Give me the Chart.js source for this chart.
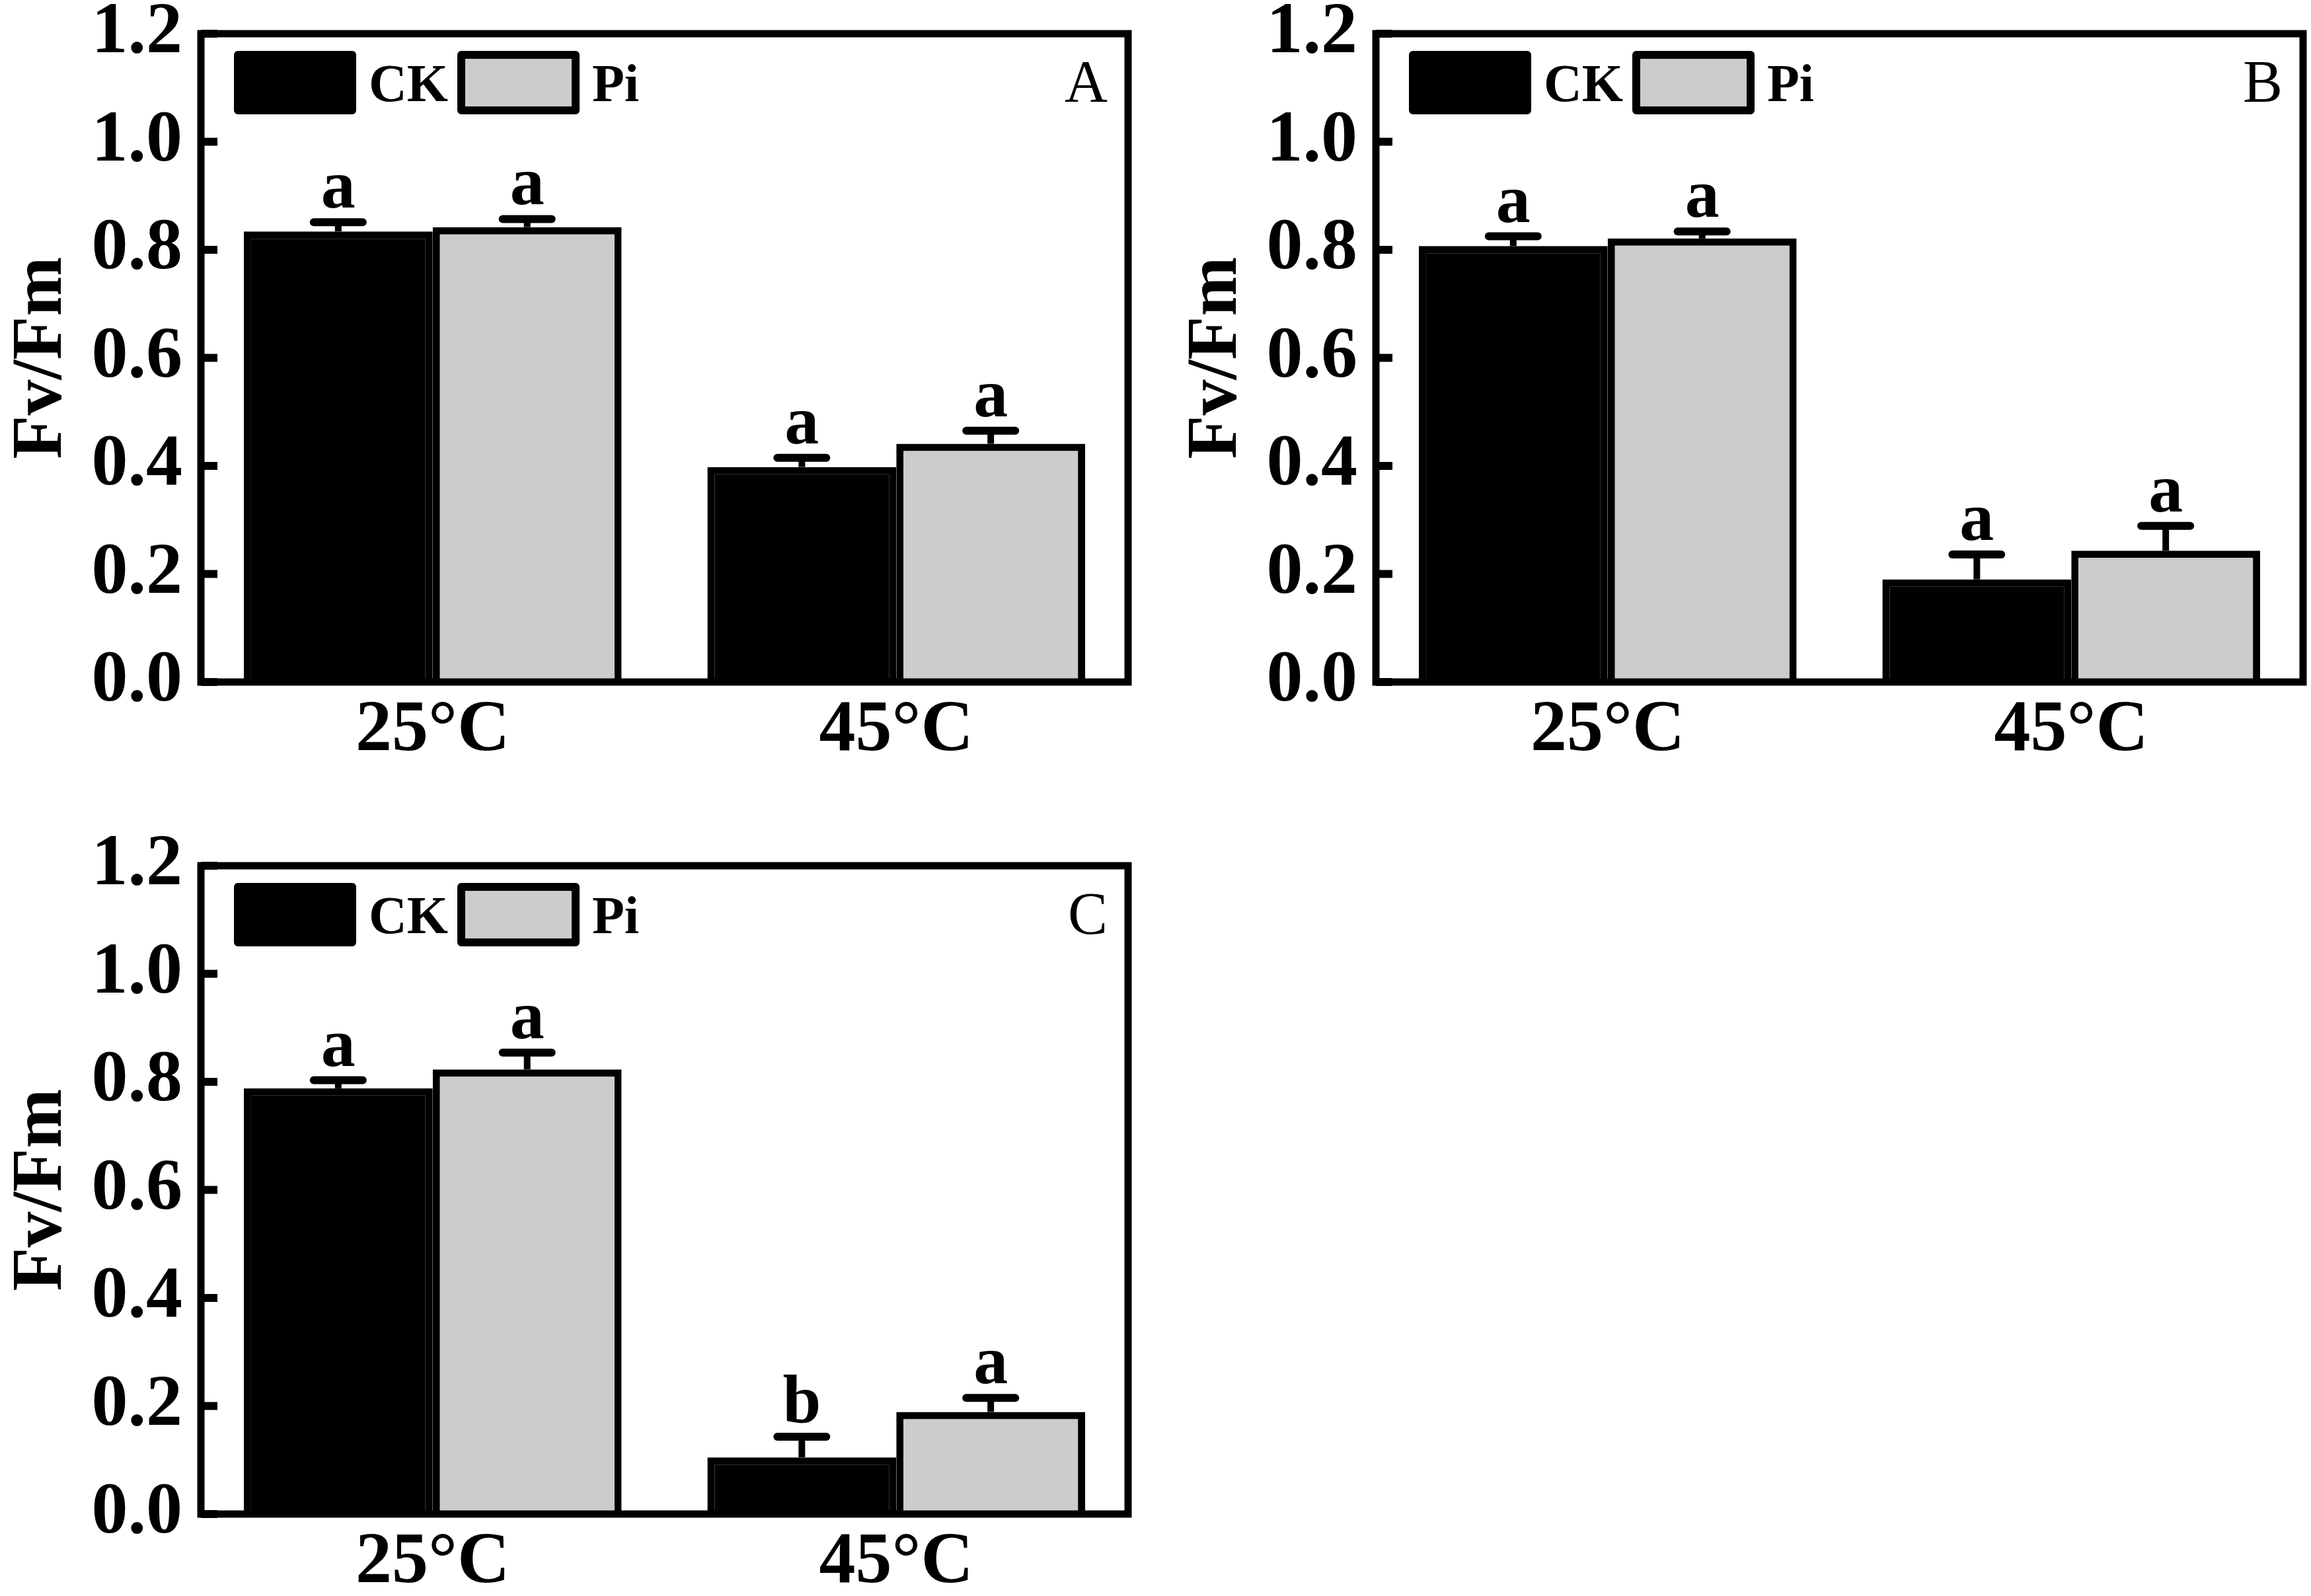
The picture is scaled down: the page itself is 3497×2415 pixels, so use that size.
<!DOCTYPE html>
<html>
<head>
<meta charset="utf-8">
<script src="https://cdn.jsdelivr.net/npm/chart.js@4.4.1/dist/chart.umd.min.js"></script>
<style>
  html, body { margin: 0; padding: 0; background: #fff; }
  body { width: 3497px; height: 2415px; position: relative; overflow: hidden; }
  .panel { position: absolute; width: 1719px; height: 1156px; }
</style>
</head>
<body>
<div class="panel" style="left:0;top:0"><canvas id="chartA" width="1719" height="1156"></canvas></div>
<div class="panel" style="left:1778px;top:0"><canvas id="chartB" width="1719" height="1156"></canvas></div>
<div class="panel" style="left:0;top:1259px"><canvas id="chartC" width="1719" height="1156"></canvas></div>
<script>
const categories = ["25°C", "45°C"];
const seriesNames = ["CK", "Pi"];
const yTicks = [0, 0.2, 0.4, 0.6, 0.8, 1.0, 1.2];

// panel A
const ckMeanA = [0.834, 0.398];
const ckErrA = [0.017, 0.017];
const ckLetterA = ["a", "a"];
const piMeanA = [0.842, 0.441];
const piErrA = [0.015, 0.024];
const piLetterA = ["a", "a"];

// panel B
const ckMeanB = [0.807, 0.190];
const ckErrB = [0.018, 0.046];
const ckLetterB = ["a", "a"];
const piMeanB = [0.821, 0.243];
const piErrB = [0.013, 0.046];
const piLetterB = ["a", "a"];

// panel C
const ckMeanC = [0.788, 0.105];
const ckErrC = [0.015, 0.038];
const ckLetterC = ["a", "b"];
const piMeanC = [0.823, 0.189];
const piErrC = [0.031, 0.026];
const piLetterC = ["a", "a"];

const serif = "'Liberation Serif', 'Times New Roman', serif";

// frame, inward ticks, error bars, letters, legend and panel label
const decor = {
  id: "decor",
  afterDatasetsDraw(chart) {
    const ctx = chart.ctx;
    const y = chart.scales.y;
    ctx.save();
    chart.data.datasets.forEach((ds, i) => {
      chart.getDatasetMeta(i).data.forEach((bar, j) => {
        const top = y.getPixelForValue(ds.data[j]);
        const end = y.getPixelForValue(ds.data[j] + ds.err[j]);
        ctx.strokeStyle = "#000";
        ctx.lineWidth = 10;
        ctx.lineCap = "butt";
        ctx.beginPath();
        ctx.moveTo(bar.x, top);
        ctx.lineTo(bar.x, end);
        ctx.stroke();
        ctx.lineWidth = 12;
        ctx.lineCap = "round";
        ctx.beginPath();
        ctx.moveTo(bar.x - 37, end);
        ctx.lineTo(bar.x + 37, end);
        ctx.stroke();
        ctx.fillStyle = "#000";
        ctx.font = "bold 104px " + serif;
        ctx.textAlign = "center";
        ctx.textBaseline = "alphabetic";
        ctx.fillText(ds.letters[j], bar.x, end - 22);
      });
    });
    ctx.restore();
  },
  afterDraw(chart, args, opts) {
    const ctx = chart.ctx;
    const a = chart.chartArea;
    const y = chart.scales.y;
    ctx.save();
    ctx.strokeStyle = "#000";
    // inward ticks on the left axis
    ctx.lineWidth = 12;
    ctx.lineCap = "butt";
    y.ticks.forEach(t => {
      const py = y.getPixelForValue(t.value);
      ctx.beginPath();
      ctx.moveTo(a.left, py);
      ctx.lineTo(a.left + 25, py);
      ctx.stroke();
    });
    // frame
    ctx.lineWidth = 11;
    ctx.lineJoin = "miter";
    ctx.strokeRect(a.left, a.top, a.right - a.left, a.bottom - a.top);
    // legend
    const ds = chart.data.datasets;
    const boxX = [a.left + 50, a.left + 388];
    const textX = [a.left + 254, a.left + 592];
    ds.forEach((d, i) => {
      ctx.fillStyle = d.backgroundColor;
      ctx.lineJoin = "round";
      ctx.lineWidth = 12;
      ctx.fillRect(boxX[i] + 6, a.top + 32, 173, 84);
      ctx.strokeRect(boxX[i] + 6, a.top + 32, 173, 84);
      ctx.fillStyle = "#000";
      ctx.font = "bold 80px " + serif;
      ctx.textAlign = "left";
      ctx.textBaseline = "alphabetic";
      ctx.fillText(d.label, textX[i], a.top + 102);
    });
    // panel label
    ctx.font = "90px " + serif;
    ctx.textAlign = "right";
    ctx.fillText(opts.label, a.right - 31, a.top + 103);
    ctx.restore();
  }
};

function noPad(s) {
  s.paddingTop = 0;
  s.paddingBottom = 0;
  s.paddingLeft = 0;
  s.paddingRight = 0;
}

function makeChart(id, label, ckMean, ckErr, ckLetter, piMean, piErr, piLetter) {
  return new Chart(document.getElementById(id), {
    type: "bar",
    data: {
      labels: categories,
      datasets: [
        {
          label: seriesNames[0],
          data: ckMean,
          err: ckErr,
          letters: ckLetter,
          backgroundColor: "#000000",
          borderColor: "#000000",
          borderWidth: 11,
          categoryPercentage: 0.815,
          barPercentage: 1.0
        },
        {
          label: seriesNames[1],
          data: piMean,
          err: piErr,
          letters: piLetter,
          backgroundColor: "#cccccc",
          borderColor: "#000000",
          borderWidth: 11,
          categoryPercentage: 0.815,
          barPercentage: 1.0
        }
      ]
    },
    options: {
      responsive: false,
      animation: false,
      devicePixelRatio: 1,
      layout: { padding: { left: 0, right: 12, top: 51, bottom: 0 } },
      plugins: {
        legend: { display: false },
        tooltip: { enabled: false },
        decor: { label: label }
      },
      scales: {
        x: {
          grid: { display: false, drawTicks: false, tickLength: 0 },
          border: { display: false },
          ticks: {
            color: "#000",
            padding: 9,
            font: { family: serif, size: 110, weight: "bold" }
          },
          afterFit: (s) => { s.height = 124; noPad(s); }
        },
        y: {
          min: 0,
          max: 1.2,
          afterBuildTicks: (s) => { s.ticks = yTicks.map(v => ({ value: v })); },
          grid: { display: false, drawTicks: false, tickLength: 0 },
          border: { display: false },
          ticks: {
            color: "#000",
            padding: 28,
            font: { family: serif, size: 110, weight: "bold" },
            callback: (v) => Number(v).toFixed(1)
          },
          title: {
            display: true,
            text: "Fv/Fm",
            color: "#000",
            padding: { top: 10, bottom: 0 },
            font: { family: serif, size: 108, weight: "bold", lineHeight: 1 }
          },
          afterFit: (s) => { s.width = 304; noPad(s); }
        }
      }
    },
    plugins: [decor]
  });
}

makeChart("chartA", "A", ckMeanA, ckErrA, ckLetterA, piMeanA, piErrA, piLetterA);
makeChart("chartB", "B", ckMeanB, ckErrB, ckLetterB, piMeanB, piErrB, piLetterB);
makeChart("chartC", "C", ckMeanC, ckErrC, ckLetterC, piMeanC, piErrC, piLetterC);
</script>
</body>
</html>
